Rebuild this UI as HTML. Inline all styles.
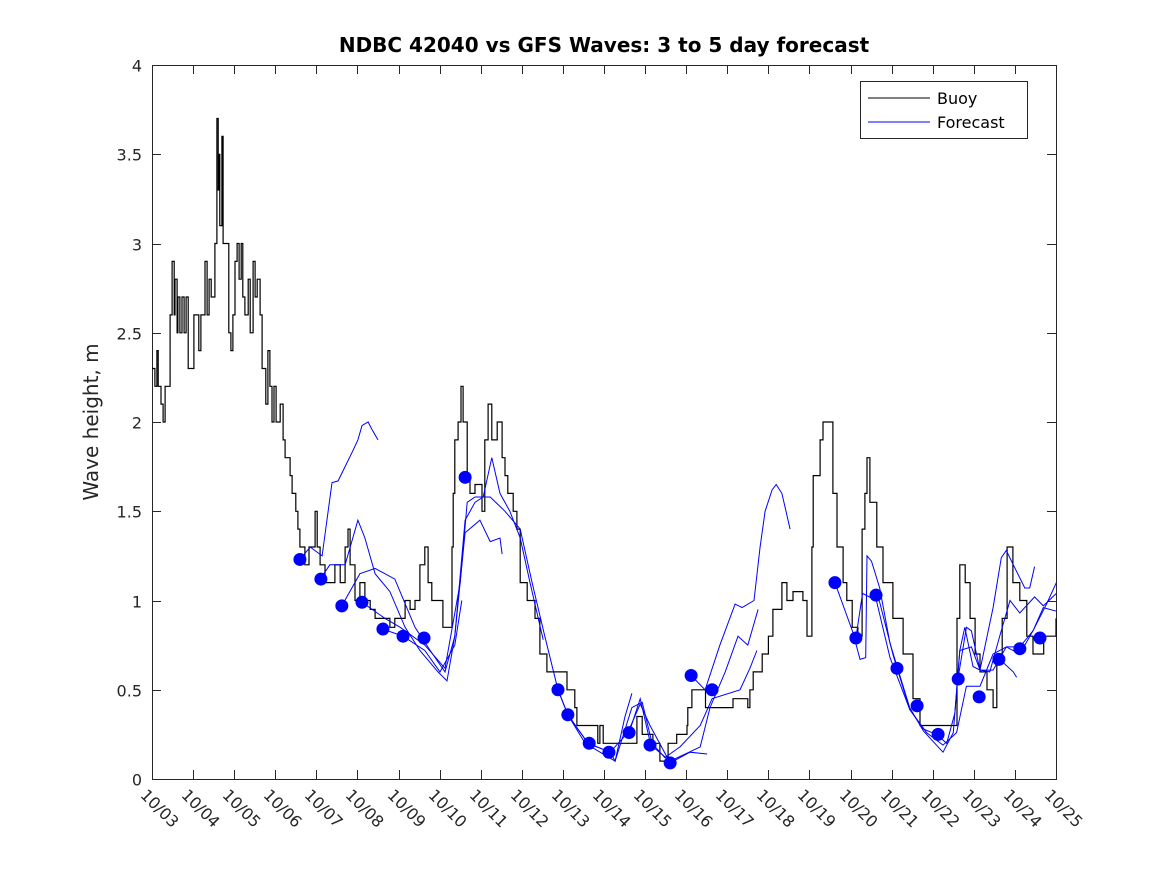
<!DOCTYPE html>
<html><head><meta charset="utf-8"><style>
html,body{margin:0;padding:0;background:#fff;}
svg{display:block;font-family:"DejaVu Sans","Liberation Sans",sans-serif;}
</style></head><body>
<svg id="chart" width="1167" height="875" viewBox="0 0 1167 875" xmlns="http://www.w3.org/2000/svg">
<rect x="0" y="0" width="1167" height="875" fill="#fff"/>
<text x="604" y="52" text-anchor="middle" font-size="20" font-weight="bold" fill="#000">NDBC 42040 vs GFS Waves: 3 to 5 day forecast</text>
<text transform="translate(98,422) rotate(-90)" text-anchor="middle" font-size="20" fill="#262626">Wave height, m</text>
<g id="plot"></g>
<g id="legend">
<rect x="860.5" y="81.5" width="167" height="57" fill="#fff" stroke="#262626" stroke-width="1"/>
<line x1="868" y1="98" x2="930" y2="98" stroke="#000" stroke-width="1"/>
<text x="937" y="104" font-size="16" fill="#000">Buoy</text>
<line x1="868" y1="122" x2="930" y2="122" stroke="#0000ff" stroke-width="1"/>
<text x="937" y="128" font-size="16" fill="#000">Forecast</text>
</g>
</svg>
<script>
const xTickLabels=["10/03","10/04","10/05","10/06","10/07","10/08","10/09","10/10","10/11","10/12","10/13","10/14","10/15","10/16","10/17","10/18","10/19","10/20","10/21","10/22","10/23","10/24","10/25"];
const yTicks=[0,0.5,1,1.5,2,2.5,3,3.5,4];
const yTickLabels=["0","0.5","1","1.5","2","2.5","3","3.5","4"];
const buoyDays=[0,.07,.12,.15,.19,.22,.27,.32,.37,.44,.49,.54,.56,.61,.63,.68,.73,.78,.83,.88,.97,1.02,1.10,1.14,1.19,1.24,1.29,1.34,1.39,1.44,1.48,1.53,1.58,1.61,1.63,1.65,1.70,1.73,1.80,1.87,1.92,1.97,2.02,2.07,2.12,2.17,2.21,2.26,2.34,2.39,2.46,2.51,2.56,2.63,2.68,2.73,2.77,2.82,2.87,2.92,2.97,3.02,3.12,3.19,3.24,3.31,3.36,3.41,3.46,3.50,3.55,3.60,3.67,3.72,3.77,3.82,3.89,3.97,4.02,4.09,4.21,4.33,4.45,4.58,4.70,4.77,4.82,4.94,5.06,5.18,5.31,5.43,5.55,5.67,5.79,5.91,6.04,6.16,6.28,6.40,6.52,6.64,6.72,6.81,6.94,7.08,7.18,7.30,7.33,7.37,7.45,7.52,7.57,7.67,7.74,7.86,8.03,8.10,8.18,8.27,8.40,8.52,8.59,8.66,8.79,8.88,8.96,9.13,9.32,9.44,9.61,9.86,10.10,10.29,10.34,10.49,10.85,10.90,10.98,11.39,11.80,11.93,12.19,12.36,12.56,12.77,13.02,13.04,13.14,13.46,13.47,13.82,14.14,14.50,14.55,14.63,14.80,14.85,15.00,15.11,15.33,15.45,15.60,15.84,15.94,16.06,16.09,16.18,16.26,16.33,16.50,16.57,16.67,16.82,16.91,17.04,17.18,17.28,17.35,17.40,17.47,17.64,17.79,18.03,18.28,18.52,18.69,19.47,19.59,19.66,19.79,19.91,20.03,20.15,20.32,20.47,20.56,20.69,20.81,20.95,21.12,21.29,21.44,21.70,22.0];
const buoyValues=[2.3,2.2,2.4,2.2,2.2,2.1,2.0,2.2,2.2,2.6,2.9,2.6,2.8,2.5,2.7,2.5,2.7,2.5,2.7,2.3,2.3,2.6,2.6,2.4,2.6,2.6,2.9,2.6,2.8,2.7,2.7,3.0,3.7,3.3,3.5,3.1,3.6,3.0,3.0,2.5,2.4,2.6,2.9,3.0,2.8,3.0,2.7,2.6,2.8,2.5,2.9,2.7,2.8,2.6,2.3,2.3,2.1,2.4,2.2,2.0,2.2,2.0,2.1,1.9,1.8,1.8,1.7,1.6,1.6,1.5,1.4,1.3,1.3,1.2,1.2,1.3,1.3,1.5,1.3,1.2,1.1,1.1,1.2,1.1,1.3,1.4,1.2,1.0,1.1,1.0,0.95,0.9,0.9,0.9,0.85,0.9,0.9,1.0,0.95,1.0,1.2,1.3,1.1,1.0,1.0,0.85,0.85,1.3,1.6,1.9,2.0,2.2,2.0,1.7,1.6,1.65,1.5,1.9,2.1,1.9,2.0,1.8,1.7,1.6,1.5,1.4,1.1,1.0,0.9,0.7,0.6,0.6,0.5,0.4,0.3,0.3,0.2,0.3,0.2,0.2,0.35,0.25,0.2,0.1,0.2,0.25,0.3,0.4,0.5,0.5,0.4,0.4,0.45,0.4,0.5,0.6,0.6,0.7,0.8,0.95,1.1,1.0,1.05,1.0,0.8,1.3,1.7,1.7,1.9,2.0,2.0,1.6,1.3,1.1,1.0,0.85,0.8,1.4,1.6,1.8,1.55,1.3,1.1,0.9,0.7,0.45,0.3,0.3,0.9,1.2,1.1,0.9,0.7,0.6,0.5,0.4,0.7,0.9,1.3,1.1,1.0,0.8,0.7,0.8,0.9];
const fcA_days=[3.60,3.85,4.14,4.38,4.53,4.70,4.87,5.01,5.11,5.26,5.35,5.50];
const fcA_vals=[1.23,1.3,1.25,1.66,1.67,1.75,1.83,1.9,1.98,2.0,1.96,1.9];
const fcB_days=[4.09,4.33,4.70,5.01,5.18,5.43,5.79,6.16,6.52,6.96,7.18,7.37,7.62,7.86,8.06,8.27,8.47,8.71,8.96,9.20,9.52];
const fcB_vals=[1.12,1.2,1.2,1.45,1.35,1.15,1.05,0.85,0.72,0.6,0.55,0.8,1.45,1.55,1.58,1.8,1.6,1.5,1.35,1.1,0.78];
const fcC_days=[4.62,5.06,5.43,5.91,6.40,6.77,7.13,7.37,7.62,7.98,8.23,8.47,8.52];
const fcC_vals=[0.97,1.15,1.18,1.12,0.85,0.72,0.6,0.8,1.38,1.45,1.33,1.35,1.26];
const fcD_days=[5.11,5.67,6.04,6.64,7.13,7.50,7.67,7.86,8.23,8.59,8.96,9.25,9.56,9.88,10.12,10.61,11.15,11.27,11.51,11.68];
const fcD_vals=[0.99,0.9,0.85,0.75,0.62,1.1,1.55,1.58,1.58,1.5,1.4,1.1,0.8,0.5,0.36,0.2,0.15,0.1,0.35,0.48];
const fcE_days=[5.62,6.11,6.64,7.01,7.37,7.54];
const fcE_vals=[0.84,0.8,0.72,0.6,0.75,1.0];
const fcF_days=[9.88,10.12,10.61,11.15,11.58,11.88,12.12,12.61,13.09,13.51];
const fcF_vals=[0.5,0.36,0.2,0.15,0.26,0.42,0.3,0.09,0.15,0.14];
const fcG_days=[10.12,10.54,11.27,11.68,11.93,12.17,12.48,12.85,13.34,13.63,14.31,14.55,14.72];
const fcG_vals=[0.36,0.2,0.1,0.4,0.43,0.2,0.12,0.18,0.3,0.45,0.5,0.62,0.72];
const fcH_days=[11.61,11.88,12.14,12.61,13.34,13.58,13.95,14.26,14.50,14.75];
const fcH_vals=[0.26,0.45,0.19,0.1,0.18,0.4,0.6,0.8,0.75,0.95];
const fcI_days=[13.12,13.46,13.82,14.19,14.36,14.65,14.80,14.92,15.09,15.19,15.33,15.53];
const fcI_vals=[0.58,0.5,0.75,0.98,0.96,1.0,1.3,1.5,1.62,1.65,1.6,1.4];
const fcK_days=[16.62,17.06,17.23,17.37,17.40,17.51,17.71,17.96,18.44,18.77,19.25,19.50,19.66,19.78,19.98,20.15,20.47,20.67,20.79,20.96,21.24,21.36,21.48];
const fcK_vals=[1.10,0.82,0.67,0.68,1.25,1.22,1.07,0.76,0.4,0.27,0.15,0.26,0.72,0.85,0.63,0.61,0.96,1.24,1.28,1.2,1.07,1.07,1.19];
const fcL_days=[17.13,17.29,17.63,17.96,18.44,18.77,19.09,19.34,19.54,19.66,19.94,20.15,20.39,20.63,20.88,21.12,21.48,21.69,22.01];
const fcL_vals=[0.79,1.04,1.0,0.68,0.39,0.28,0.25,0.2,0.37,0.72,0.74,0.61,0.6,0.8,1.0,0.93,1.02,0.97,1.04];
const fcM_days=[17.63,17.71,18.04,18.44,18.85,19.25,19.58,19.82,20.15,20.47,20.79,21.12,21.44,21.77,22.01];
const fcM_vals=[1.03,0.99,0.69,0.39,0.26,0.19,0.26,0.52,0.52,0.70,0.74,0.70,0.83,0.98,1.10];
const fcN_days=[19.62,19.82,19.94,20.15,20.47,20.79,21.12,21.44,21.69,22.01];
const fcN_vals=[0.57,0.85,0.83,0.61,0.61,0.74,0.74,0.83,0.96,0.94];
const fcO_days=[20.63,20.96,21.04];
const fcO_vals=[0.67,0.6,0.57];
const dotDays=[3.60,4.11,4.62,5.11,5.62,6.11,6.62,7.62,9.88,10.12,10.64,11.12,11.61,12.12,12.61,13.12,13.63,16.62,17.13,17.62,18.13,18.62,19.13,19.62,20.13,20.61,21.12,21.61];
const dotValues=[1.23,1.12,0.97,0.99,0.84,0.80,0.79,1.69,0.50,0.36,0.20,0.15,0.26,0.19,0.09,0.58,0.50,1.10,0.79,1.03,0.62,0.41,0.25,0.56,0.46,0.67,0.73,0.79];

const L=152,R=1056,T=65,B=779,NS="http://www.w3.org/2000/svg";
const xs=d=>L+d*(R-L)/22;
const ys=v=>B-v*(B-T)/4;
const plot=document.getElementById('plot');
function mk(tag,attrs){const e=document.createElementNS(NS,tag);for(const k in attrs)e.setAttribute(k,attrs[k]);plot.appendChild(e);return e;}

const box=mk('rect',{x:L+.5,y:T+.5,width:R-L,height:B-T,fill:'none',stroke:'#262626','stroke-width':1});



xTickLabels.forEach((lab,i)=>{
  const x=Math.round(xs(i))+.5;
  const t1=mk('line',{x1:x,y1:B,x2:x,y2:B-9,stroke:'#262626'});
  
  
  const t2=mk('line',{x1:x,y1:T,x2:x,y2:T+9,stroke:'#262626'});
  
  
  const tx=mk('text',{transform:`translate(${x-13},${B+17}) rotate(45)`,'font-size':16,fill:'#262626'});
  tx.textContent=lab;
  
  
});
yTicks.forEach((v,i)=>{
  const y=Math.round(ys(v))+.5;
  const t1=mk('line',{x1:L,y1:y,x2:L+9,y2:y,stroke:'#262626'});
  
  
  const t2=mk('line',{x1:R,y1:y,x2:R-9,y2:y,stroke:'#262626'});
  
  
  const tx=mk('text',{x:L-10,y:y+6,'text-anchor':'end','font-size':16,fill:'#262626'});
  tx.textContent=yTickLabels[i];
  
  
});

const pts=(ds,vs)=>ds.map((d,i)=>xs(d).toFixed(1)+','+ys(vs[i]).toFixed(1)).join(' ');
const stepPts=(ds,vs)=>{const a=[];ds.forEach((d,i)=>{a.push(xs(d).toFixed(1)+','+ys(vs[i]).toFixed(1));if(i<ds.length-1)a.push(xs(ds[i+1]).toFixed(1)+','+ys(vs[i]).toFixed(1));});return a.join(' ');};
const buoy=mk('polyline',{points:stepPts(buoyDays,buoyValues),fill:'none',stroke:'#000','stroke-width':1.2});



const fcs=[[fcA_days,fcA_vals],[fcB_days,fcB_vals],[fcC_days,fcC_vals],[fcD_days,fcD_vals],[fcE_days,fcE_vals],[fcF_days,fcF_vals],[fcG_days,fcG_vals],[fcH_days,fcH_vals],[fcI_days,fcI_vals],[fcK_days,fcK_vals],[fcL_days,fcL_vals],[fcM_days,fcM_vals],[fcN_days,fcN_vals],[fcO_days,fcO_vals]];
fcs.forEach(f=>{
  const p=mk('polyline',{points:pts(f[0],f[1]),fill:'none',stroke:'#0000ff','stroke-width':1});
  
  
});
dotDays.forEach((d,i)=>{
  const c=mk('circle',{cx:xs(d),cy:ys(dotValues[i]),r:6.5,fill:'#0000ff'});
  
  
});
</script>
</body></html>
